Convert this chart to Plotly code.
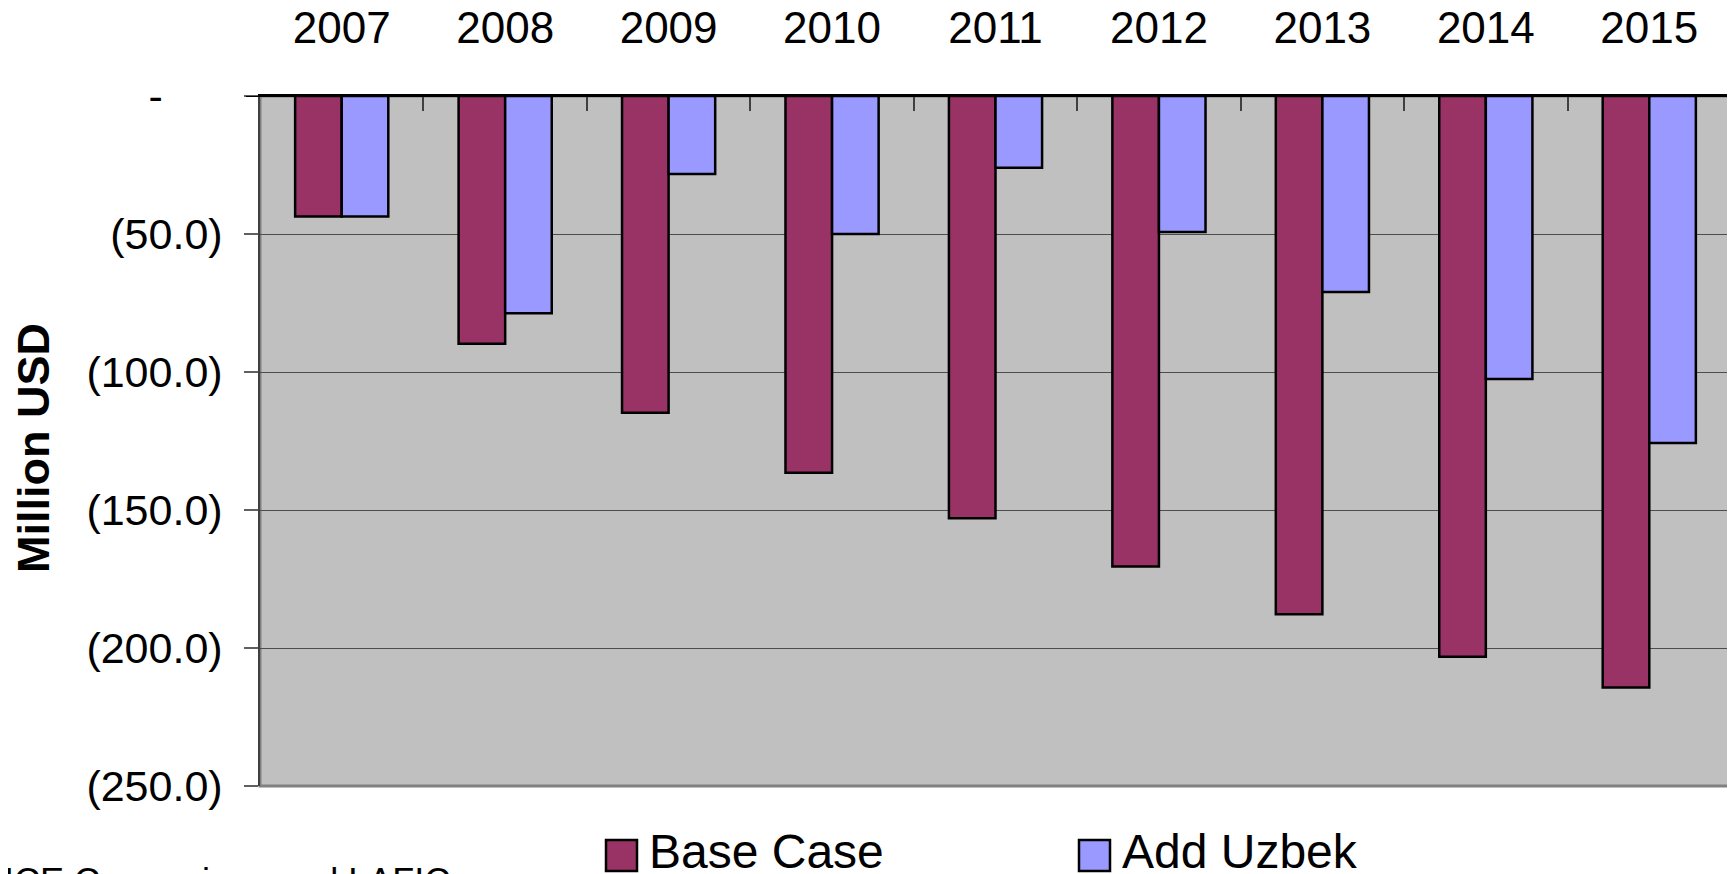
import plotly.graph_objects as go

# data (million USD)
years = ["2007", "2008", "2009", "2010", "2011", "2012", "2013", "2014", "2015"]
base_case = [-43.7, -89.8, -114.8, -136.5, -153.0, -170.5, -187.8, -203.2, -214.3]
add_uzbek = [-43.7, -78.7, -28.3, -50.0, -26.0, -49.3, -71.0, -102.5, -125.7]

y_ticks = [0, -50, -100, -150, -200, -250]
y_ticktext = ["-\u00a0\u00a0\u00a0\u00a0\u00a0", "(50.0)", "(100.0)", "(150.0)", "(200.0)", "(250.0)"]

series_names = ["Base Case", "Add Uzbek"]
series_colors = ["#993366", "#9999FF"]

# the page body has an 8px margin, so the figure is 8px smaller than the window
OFF = 8
W, H = 1735 - OFF, 874 - OFF
L, T = 260 - OFF, 96 - OFF
PW, PH = 1471, 690
R, B = W - L - PW, H - T - PH


def px_x(p):
    # screen pixel x -> paper x
    return (p - OFF - L) / PW


def px_y(p):
    # screen pixel y -> paper y
    return (T + PH - (p - OFF)) / PH


FONT = "Liberation Sans, Arial, sans-serif"

fig = go.Figure()
for name, vals, col in zip(series_names, [base_case, add_uzbek], series_colors):
    fig.add_trace(go.Bar(x=years, y=vals, name=name,
                         marker=dict(color=col, line=dict(color="black", width=2.5)),
                         showlegend=False))

shapes = [
    # plot area border
    dict(type="rect", xref="paper", yref="paper", x0=0, x1=1, y0=0, y1=1,
         line=dict(color="#808080", width=3), layer="below"),
    # zero line at top, extending over the tick
    dict(type="line", xref="paper", yref="y", x0=px_x(246), x1=1, y0=0, y1=0,
         line=dict(color="black", width=2)),
]
annotations = []

# legend drawn by hand so the swatches can be large like the original
legend_pos = [606, 1079]
for name, col, x0 in zip(series_names, series_colors, legend_pos):
    shapes.append(dict(type="rect", xref="paper", yref="paper",
                       x0=px_x(x0), x1=px_x(x0 + 31), y0=px_y(871), y1=px_y(840),
                       fillcolor=col, line=dict(color="black", width=2.5)))
    annotations.append(dict(text=name, xref="paper", yref="paper", x=px_x(x0 + 41),
                            y=px_y(852), xanchor="left", yanchor="middle", showarrow=False,
                            font=dict(size=48, family=FONT, color="black")))

# y axis title
annotations.append(dict(text="<b>Million USD</b>", xref="paper", yref="paper",
                        x=px_x(33), y=px_y(448), xanchor="center", yanchor="middle",
                        textangle=-90, showarrow=False,
                        font=dict(size=45, family=FONT, color="black")))

# source line, cut off at the bottom edge like the original
annotations.append(dict(text="ICE Comparison and LAFIC", xref="paper", yref="paper",
                        x=px_x(2), y=px_y(859), xanchor="left", yanchor="top",
                        showarrow=False, font=dict(size=36, family=FONT, color="black")))

fig.update_layout(
    width=W, height=H,
    margin=dict(l=L, r=R, t=T, b=B, autoexpand=False),
    paper_bgcolor="white",
    plot_bgcolor="#C0C0C0",
    barmode="group",
    bargap=0.43,
    bargroupgap=0,
    font=dict(family=FONT, color="black"),
    xaxis=dict(side="top", type="category", showgrid=False,
               ticks="inside", tickson="boundaries", ticklen=15, tickcolor="#404040",
               tickwidth=1.5, showline=True, linecolor="black", linewidth=2,
               tickfont=dict(size=44, family=FONT), ticklabelstandoff=33),
    yaxis=dict(range=[-250, 0], tickvals=y_ticks, ticktext=y_ticktext,
               showgrid=True, gridcolor="#4d4d4d", gridwidth=1, zeroline=False,
               ticks="outside", ticklen=14, tickcolor="#606060", tickwidth=1.5,
               showline=True, linecolor="#404040", linewidth=1.5,
               tickfont=dict(size=43, family=FONT), ticklabelstandoff=13),
    shapes=shapes,
    annotations=annotations,
)

fig.write_html("out.html")
